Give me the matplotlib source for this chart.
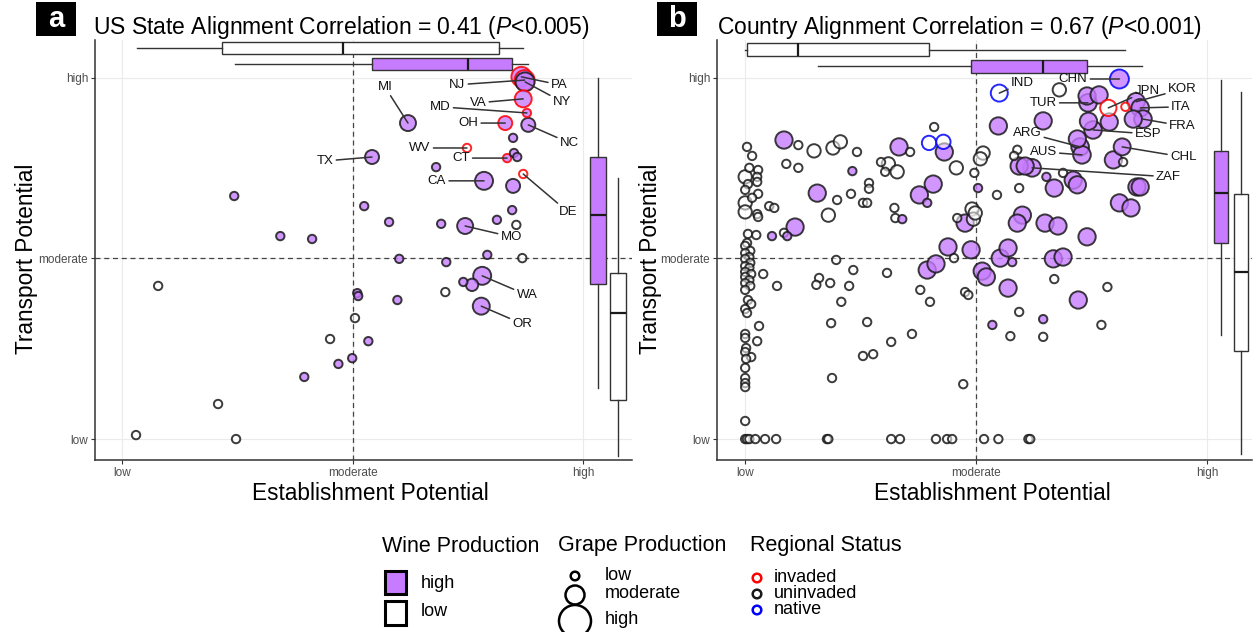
import numpy as np
import matplotlib
matplotlib.use('Agg')
import matplotlib.pyplot as plt
from matplotlib.patches import Rectangle, Circle
from matplotlib.colors import to_rgba

plt.rcParams['font.family'] = ['Liberation Sans', 'DejaVu Sans']
plt.rcParams['mathtext.fontset'] = 'custom'
plt.rcParams['mathtext.rm'] = 'Liberation Sans'
plt.rcParams['mathtext.it'] = 'Liberation Sans:italic'

# ---------------- data (0 = low, 50 = moderate, 100 = high) ----------------
# panel a : US states
a_name = ['PA', 'NJ', 'NY', 'VA', 'MD', 'OH', 'NC', 'WV', 'CT', 'CA', 'DE', 'MO', 'MI', 'TX', 'WA', 'OR']
a_est = [86.6, 87.3, 87.4, 87.0, 87.8, 83.1, 88.1, 74.8, 83.5, 78.5, 87.0, 74.4, 62.0, 54.2, 78.1, 77.9]
a_trans = [100.3, 99.4, 98.9, 94.2, 90.3, 87.5, 87.0, 80.6, 77.8, 71.5, 73.4, 59.0, 87.5, 78.1, 45.2, 36.8]
a_grape = [2.75, 2.75, 2.6, 2.3, 1, 1.85, 1.85, 1, 1, 2.45, 1, 2.15, 2.15, 1.85, 2.45, 2.3]
a_wine = [1, 1, 1, 1, 1, 1, 1, 0, 1, 1, 0, 1, 1, 1, 1, 1]
a_status = ['invaded', 'invaded', 'uninvaded', 'invaded', 'invaded', 'invaded', 'uninvaded', 'invaded',
            'invaded', 'uninvaded', 'invaded', 'uninvaded', 'uninvaded', 'uninvaded', 'uninvaded', 'uninvaded']

# unlabeled states (all uninvaded)
a_other_est = [84.8, 85.0, 85.7, 68.1, 84.8, 52.5, 84.6, 57.9, 69.2, 81.3, 85.5, 79.2, 86.8, 60.1, 70.3, 24.3, 34.3,
               41.2, 7.8, 51.0, 51.2, 59.7, 70.1, 74.0, 75.9, 50.5, 45.1, 53.4, 49.9, 46.9, 39.5, 20.8, 3.0, 24.7]
a_other_trans = [83.4, 79.2, 78.1, 75.3, 70.1, 64.5, 63.4, 60.1, 59.6, 60.7, 59.3, 51.0, 50.1, 49.9, 49.0, 67.3, 56.2,
                 55.4, 42.4, 40.4, 39.6, 38.5, 40.7, 43.5, 42.7, 33.5, 27.7, 27.1, 22.4, 20.8, 17.2, 9.7, 1.1, 0.0]
a_other_grape = [1, 1, 1, 1, 1.85, 1, 1, 1, 1, 1, 1, 1, 1, 1, 1, 1, 1,
                 1, 1, 1, 1, 1, 1, 1, 1.6, 1, 1, 1, 1, 1, 1, 1, 1, 1]
a_other_wine = [1, 1, 1, 1, 1, 1, 1, 1, 1, 1, 0, 1, 0, 1, 1, 1, 1,
                1, 0, 1, 1, 1, 0, 1, 1, 0, 0, 1, 1, 1, 1, 0, 0, 0]

# marginal boxplots: whisker low, q1, median, q3, whisker high
a_est_box_low = [3.3, 21.7, 47.9, 81.7, 86.9]
a_est_box_high = [24.5, 54.2, 75.1, 84.6, 88.1]
a_trans_box_high = [14.1, 42.9, 62.0, 78.1, 100.0]
a_trans_box_low = [-4.7, 10.8, 34.9, 46.0, 72.3]

# panel b : countries
b_name = ['CHN', 'IND', 'TUR', 'JPN', 'KOR', 'ITA', 'FRA', 'ESP', 'ARG', 'AUS', 'CHL', 'ZAF']
b_est = [81.0, 55.0, 74.2, 78.6, 84.6, 85.5, 86.1, 75.3, 72.5, 72.9, 81.6, 62.1]
b_trans = [99.7, 95.8, 93.1, 91.7, 93.4, 91.7, 88.6, 85.6, 80.9, 78.7, 80.9, 75.1]
b_grape = [2.6, 2.3, 2.4, 2.2, 2.4, 2.4, 2.4, 2.4, 2.4, 2.4, 2.3, 2.4]
b_wine = [1, 0, 1, 0, 1, 1, 1, 1, 1, 1, 1, 1]
b_status = ['native', 'native', 'uninvaded', 'invaded', 'uninvaded', 'uninvaded', 'uninvaded',
            'uninvaded', 'uninvaded', 'uninvaded', 'uninvaded', 'uninvaded']

# unlabeled countries: low grape, low wine, uninvaded
b_lw_est = [0.4, 1.5, 0.9, 2.8, 2.6, 2.6, 0.6, 0, 2.8, 1.5, 2.6, 2.8, 5.2, 6.3, 0.6, 2.4, 8.4, 11.5, 8.9, 11.5,
            0.4, 0, 1.1, 0, 0.9, 0, 1.1, 0, 0.9, 0, 1.3, 0, 0.9, 0, 1.1, 0, 3.9, 6.9, 0.6, 1.3, 0, 0.4, 3.0,
            0, 0, 2.6, 0.2, 0, 1.3, 0.2, 0, 0, 0, 0, 0,
            0, 0.4, 0.9, 2.2, 4.3, 6.7, 17.7, 18.0, 31.6, 33.5, 41.3, 43.7, 44.8, 51.7, 54.8, 61.3, 61.7,
            24.2, 29.4, 30.3, 35.7, 40.9, 19.9, 22.9, 26.8, 26.8, 25.5, 26.4, 32.3, 32.5, 45.9, 49.6, 54.5,
            45.2, 19.7, 23.4, 30.7, 16.0, 15.4, 18.4, 22.5, 20.8, 37.9, 40.0, 47.6, 48.3, 18.6, 26.4, 36.1,
            31.6, 25.5, 27.7, 18.8, 47.2,
            58.9, 58.2, 59.3, 68.8, 81.8, 66.9, 78.4, 59.3, 57.4, 64.5, 77.1]
b_lw_trans = [80.9, 78.4, 75.1, 74.5, 72.6, 71.2, 70.6, 69.0, 67.9, 66.8, 62.3, 61.5, 64.5, 64.0, 56.8, 56.5, 57.1,
              81.4, 76.2, 75.1,
              54.3, 53.5, 52.1, 51.5, 50.4, 49.9, 48.8, 47.9, 47.4, 46.3, 45.7, 44.9, 44.0, 43.2, 42.4, 41.3,
              45.7, 42.4, 38.5, 37.4, 36.0, 34.9, 31.3, 29.1, 28.0, 27.1, 25.2, 24.1, 22.7, 22.2, 19.7, 16.9,
              15.5, 14.4, 5.0,
              0, 0, 0, 0, 0, 0, 0, 0, 0, 0, 0, 0, 0, 0, 0, 0, 0,
              79.5, 76.7, 74.0, 79.5, 86.4, 66.2, 67.9, 70.9, 69.3, 65.4, 65.4, 64.0, 61.2, 61.2, 73.7, 67.6,
              50.1, 49.6, 46.8, 46.0, 44.6, 42.7, 43.2, 42.4, 38.0, 41.3, 38.0, 40.7, 39.9, 32.1, 32.4, 29.1,
              26.9, 23.0, 23.5, 16.9, 15.2,
              80.1, 78.4, 69.5, 73.7, 76.7, 44.3, 42.1, 35.2, 28.5, 28.3, 31.6]
# moderate grape, low wine, uninvaded
b_mw_est = [0, 0, 0, 14.9, 19.0, 20.6, 31.0, 32.9, 45.7, 51.5, 50.9, 49.1, 49.4, 49.8, 68.0, 18.0]
b_mw_trans = [72.6, 65.4, 62.9, 79.8, 80.6, 82.3, 76.2, 74.0, 75.1, 79.2, 77.6, 63.7, 60.9, 62.6, 96.7, 62.0]
# moderate grape, low wine, native
b_native_est = [39.8, 42.9]
b_native_trans = [82.0, 82.3]
# low grape, low wine, invaded
b_inv_est = [82.3]
b_inv_trans = [92.0]
# moderate grape, high wine, uninvaded
b_mp_est = [10.8, 8.4, 33.3, 43.1, 15.6, 37.7, 40.7, 47.6, 54.8, 43.9, 48.9, 39.4, 41.3, 51.3, 52.2, 55.2,
            56.9, 56.9, 74.0, 76.6, 78.8, 74.3, 64.5, 71.9, 79.7, 59.3, 60.6, 66.9, 71.0, 71.9, 84.8, 85.5,
            81.0, 83.5, 60.0, 58.9, 64.9, 67.7, 74.0, 66.7, 68.8, 72.1, 84.0]
b_mp_trans = [58.7, 82.8, 80.9, 79.5, 68.1, 67.6, 70.6, 59.8, 86.7, 53.2, 52.4, 46.8, 48.5, 46.5, 44.9, 50.1,
              52.9, 41.8, 95.0, 95.3, 87.8, 88.0, 88.1, 83.1, 77.3, 75.6, 75.6, 69.5, 71.7, 70.4, 69.8, 69.8,
              65.4, 64.0, 62.0, 59.8, 59.8, 59.0, 56.0, 49.9, 50.4, 38.5, 88.6]
# low grape, high wine, uninvaded
b_sp_est = [5.8, 9.1, 23.2, 39.4, 34.0, 50.4, 57.8, 53.5, 64.5, 65.2]
b_sp_trans = [56.2, 56.2, 74.2, 65.4, 60.9, 69.5, 49.0, 31.6, 33.2, 72.6]

b_est_box_low = [0.0, 0.4, 11.4, 39.8, 82.2]
b_est_box_high = [15.8, 48.9, 64.5, 74.0, 85.9]
b_trans_box_high = [28.8, 54.3, 68.1, 79.8, 99.4]
b_trans_box_low = [-4.2, 24.4, 46.3, 67.9, 96.1]

# ---------------- layout / style ----------------
W, H = 1254, 632
PURPLE = '#C77CFF'
EDGE = {'invaded': '#FF0000', 'uninvaded': '#1A1A1A', 'native': '#0000FF'}

a_label_xy = {'PA': (94.8, 98.1), 'NJ': (72.7, 98.1), 'NY': (95.4, 93.4), 'VA': (77.2, 93.1),
              'MD': (69.0, 92.0), 'OH': (75.1, 87.5), 'NC': (97.0, 82.0), 'WV': (64.6, 80.6),
              'CT': (73.5, 77.8), 'CA': (68.3, 71.5), 'DE': (96.7, 62.9), 'MO': (84.4, 56.0),
              'MI': (57.0, 97.5), 'TX': (44.0, 77.0), 'WA': (87.8, 39.9), 'OR': (86.8, 31.9)}
b_label_xy = {'CHN': (71.0, 99.7), 'IND': (60.0, 98.6), 'TUR': (64.5, 93.1), 'JPN': (87.0, 96.4),
              'KOR': (94.6, 96.9), 'ITA': (94.3, 92.0), 'FRA': (94.6, 86.7), 'ESP': (87.2, 84.5),
              'ARG': (61.0, 84.8), 'AUS': (64.5, 79.5), 'CHL': (94.8, 78.1), 'ZAF': (91.6, 72.6)}


def radius(g):
    # grape production score -> marker radius (px)
    return 4.2 + 3.3 * (np.asarray(g, dtype=float) - 1)


def draw_points(ax, est, trans, grape, wine, status):
    est = np.asarray(est, float)
    trans = np.asarray(trans, float)
    r = radius(grape)
    face = np.array([to_rgba(PURPLE, 0.8) if w else to_rgba('white', 0.55) for w in wine])
    edge = np.array([to_rgba(EDGE[s], 0.85) for s in status])
    o = np.argsort(-r, kind='stable')
    ax.scatter(est[o], trans[o], s=(1.44 * r[o]) ** 2, c=face[o], edgecolors=edge[o],
               linewidths=1.4, zorder=4)


def draw_box(ax, stats, pos, width, horizontal, fill):
    st = [dict(whislo=stats[0], q1=stats[1], med=stats[2], q3=stats[3], whishi=stats[4], fliers=[])]
    ax.bxp(st, positions=[pos], widths=width,
           orientation='horizontal' if horizontal else 'vertical',
           patch_artist=True, showcaps=False, showfliers=False, manage_ticks=False,
           boxprops=dict(facecolor=fill, edgecolor='#333333', linewidth=1.0),
           whiskerprops=dict(color='#333333', linewidth=1.0),
           medianprops=dict(color='#1A1A1A', linewidth=1.6), zorder=3)


def setup(ax, xlim, ylim):
    ax.set_xticks([0, 50, 100], ['low', 'moderate', 'high'])
    ax.set_yticks([0, 50, 100], ['low', 'moderate', 'high'])
    ax.grid(True, color='#EBEBEB', lw=0.8)
    ax.set_axisbelow(True)
    for s in ['top', 'right']:
        ax.spines[s].set_visible(False)
    for s in ['left', 'bottom']:
        ax.spines[s].set_color('#333333')
        ax.spines[s].set_linewidth(1.1)
    ax.tick_params(length=3, width=0.8, color='#333333', labelcolor='#4D4D4D', labelsize=8.5, pad=2)
    ax.axvline(50, color='#444444', lw=0.9, ls=(0, (4, 3)), zorder=1)
    ax.axhline(50, color='#444444', lw=0.9, ls=(0, (4, 3)), zorder=1)
    ax.set_xlim(xlim)
    ax.set_ylim(ylim)


def label_points(ax, names, est, trans, label_xy):
    for n, x, y in zip(names, est, trans):
        lx, ly = label_xy[n]
        ax.annotate(n, xy=(x, y), xytext=(lx, ly), ha='center', va='center', fontsize=9.5, color='#111111',
                    arrowprops=dict(arrowstyle='-', color='#333333', lw=1.1, shrinkA=0, shrinkB=0), zorder=6)


fig = plt.figure(figsize=(W / 100, H / 100), dpi=100)

# panel a
ax1 = fig.add_axes([95 / W, 1 - 460 / H, (632 - 95) / W, 420 / H])
draw_box(ax1, a_est_box_low, 108.3, 3.3, True, 'white')
draw_box(ax1, a_est_box_high, 103.9, 3.3, True, PURPLE)
draw_box(ax1, a_trans_box_high, 103.3, 3.5, False, PURPLE)
draw_box(ax1, a_trans_box_low, 107.6, 3.5, False, 'white')
draw_points(ax1, a_est + a_other_est, a_trans + a_other_trans, a_grape + a_other_grape,
            a_wine + a_other_wine, a_status + ['uninvaded'] * len(a_other_est))
label_points(ax1, a_name, a_est, a_trans, a_label_xy)
setup(ax1, (-5.9, 110.6), (-5.8, 110.5))

# panel b
ax2 = fig.add_axes([717 / W, 1 - 460 / H, (1252 - 717) / W, 420 / H])
draw_box(ax2, b_est_box_low, 107.8, 3.5, True, 'white')
draw_box(ax2, b_est_box_high, 103.2, 3.5, True, PURPLE)
draw_box(ax2, b_trans_box_high, 103.0, 3.0, False, PURPLE)
draw_box(ax2, b_trans_box_low, 107.4, 3.0, False, 'white')
est = b_est + b_lw_est + b_mw_est + b_native_est + b_inv_est + b_mp_est + b_sp_est
trans = b_trans + b_lw_trans + b_mw_trans + b_native_trans + b_inv_trans + b_mp_trans + b_sp_trans
grape = (b_grape + [1] * len(b_lw_est) + [1.75] * len(b_mw_est) + [1.9] * len(b_native_est)
         + [1] * len(b_inv_est) + [2.35] * len(b_mp_est) + [1] * len(b_sp_est))
wine = (b_wine + [0] * (len(b_lw_est) + len(b_mw_est) + len(b_native_est) + len(b_inv_est))
        + [1] * (len(b_mp_est) + len(b_sp_est)))
status = (b_status + ['uninvaded'] * (len(b_lw_est) + len(b_mw_est)) + ['native'] * len(b_native_est)
          + ['invaded'] * len(b_inv_est) + ['uninvaded'] * (len(b_mp_est) + len(b_sp_est)))
draw_points(ax2, est, trans, grape, wine, status)
label_points(ax2, b_name, b_est, b_trans, b_label_xy)
setup(ax2, (-6.1, 109.7), (-5.8, 110.5))

# titles, axis labels, panel letters
fig.text(93 / W, 1 - 34 / H, r'US State Alignment Correlation = 0.41 ($\mathit{P}$<0.005)', fontsize=16.5, va='baseline')
fig.text(717 / W, 1 - 34 / H, r'Country Alignment Correlation = 0.67 ($\mathit{P}$<0.001)', fontsize=16.5, va='baseline')
for cx, cy in [(370, 493), (992, 493)]:
    fig.text(cx / W, 1 - cy / H, 'Establishment Potential', fontsize=16.3, ha='center', va='center')
for cx, cy in [(27, 259), (650, 259)]:
    fig.text(cx / W, 1 - cy / H, 'Transport Potential', fontsize=16.3, ha='center', va='center', rotation=90)
for letter, x0 in [('a', 36), ('b', 657)]:
    fig.add_artist(Rectangle((x0 / W, 1 - 36 / H), 40 / W, 34 / H, transform=fig.transFigure,
                             facecolor='black', edgecolor='none'))
    fig.text((x0 + 20) / W, 1 - 19 / H, letter, color='white', fontsize=21, fontweight='bold',
             ha='center', va='center')

# legend (drawn in pixel space)
lax = fig.add_axes([0, 0, 1, 1])
lax.set_xlim(0, W)
lax.set_ylim(H, 0)
lax.axis('off')
for x, t in [(382, 'Wine Production'), (558, 'Grape Production'), (750, 'Regional Status')]:
    lax.text(x, 546, t, fontsize=15.5, va='center', ha='left')
lax.add_patch(Rectangle((385, 571), 21, 23, facecolor=PURPLE, edgecolor='black', lw=2.2))
lax.add_patch(Rectangle((385, 601), 21, 24, facecolor='white', edgecolor='black', lw=2.2))
lax.text(421, 583, 'high', fontsize=13, va='center')
lax.text(421, 612, 'low', fontsize=13, va='center')
for cy, r in [(576, 4.3), (595, 9.5), (621, 16)]:
    lax.add_patch(Circle((575, cy), r, facecolor='none', edgecolor='black', lw=1.8))
for cy, t in [(576, 'low'), (594, 'moderate'), (620, 'high')]:
    lax.text(605, cy, t, fontsize=13, va='center')
for cy, s, t in [(578, 'invaded', 'invaded'), (594, 'uninvaded', 'uninvaded'), (610, 'native', 'native')]:
    lax.add_patch(Circle((757, cy), 4.3, facecolor='none', edgecolor=EDGE[s], lw=1.8))
    lax.text(774, cy, t, fontsize=13, va='center')

fig.savefig('out.png', dpi=100)
